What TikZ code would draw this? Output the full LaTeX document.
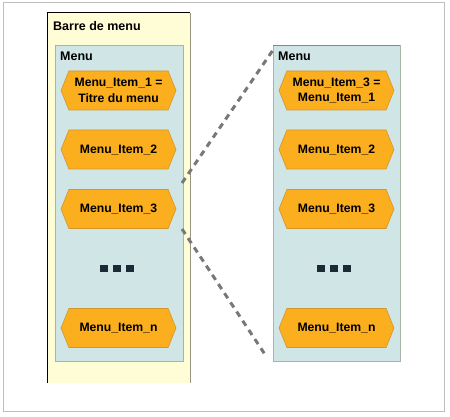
\documentclass[tikz,border=0pt]{standalone}
\usepackage{fontspec}
\setmainfont{Liberation Sans}
\usetikzlibrary{shapes.symbols}
\definecolor{itemorange}{HTML}{FBAE1E}
\definecolor{itemborder}{HTML}{D4952A}
\definecolor{barfill}{HTML}{FFFDD6}
\definecolor{barright}{HTML}{969682}
\definecolor{menufill}{HTML}{D0E6E6}
\definecolor{menuborder}{HTML}{A8B4A8}
\definecolor{menutop}{HTML}{788C82}
\definecolor{dotcol}{HTML}{1C2A36}
\definecolor{linkgray}{HTML}{787878}
\definecolor{framegray}{HTML}{BEBEBE}
\begin{document}
\begin{tikzpicture}[x=1pt,y=-1pt,
  item/.style={signal, signal to=east and west, signal pointer angle=136,
    fill=itemorange, draw=itemborder, line width=0.6pt,
    minimum width=115pt, minimum height=39pt, inner sep=0pt, align=center,
    font=\fontsize{12.2}{15.5}\selectfont\bfseries},
  boxtitle/.style={anchor=base west, inner sep=0pt, font=\fontsize{12.5}{14}\selectfont\bfseries},
  link/.style={draw=linkgray, line width=3pt, dash pattern=on 6pt off 5pt},
  dotsq/.style={fill=dotcol}]
\useasboundingbox (0,0) rectangle (450,417);
\draw[line width=1pt, draw=framegray] (3,3) rectangle (444,411);
% Barre de menu
\fill[barfill] (47,13) rectangle (190,383);
\draw[black, line width=1pt] (47,383) -- (47,13) -- (190,13);
\draw[barright, line width=0.8pt] (190,13) -- (190,383);
\node[boxtitle] (bar) at (53,30.5) {Barre de menu};
% Left menu
\draw[fill=menufill, draw=menuborder, line width=0.6pt] (55,45) rectangle (183,361);
\node[boxtitle] (lmenu) at (60,61) {Menu};
\node[item] (l1) at (118.5,90.5) {Menu\_Item\_1 =\\Titre du menu};
\node[item] (l2) at (118.5,149.5) {Menu\_Item\_2};
\node[item] (l3) at (118.5,209) {Menu\_Item\_3};
\node[item] (ln) at (118.5,328) {Menu\_Item\_n};
\foreach \x in {100,113,126} \fill[dotsq] (\x,264.5) rectangle ++(8,7);
% Right menu
\draw[fill=menufill, draw=menuborder, line width=0.6pt] (273,45) rectangle (400,361);
\draw[menutop, line width=0.8pt] (273,45) -- (400,45);
\node[boxtitle] (rmenu) at (278,61) {Menu};
\node[item] (r1) at (336.5,90.5) {Menu\_Item\_3 =\\Menu\_Item\_1};
\node[item] (r2) at (336.5,149.5) {Menu\_Item\_2};
\node[item] (r3) at (336.5,209) {Menu\_Item\_3};
\node[item] (rn) at (336.5,328) {Menu\_Item\_n};
\foreach \x in {317,330,343} \fill[dotsq] (\x,264.5) rectangle ++(8,7);
% links
\coordinate (a1) at (182,183);
\coordinate (b1) at (273,50);
\coordinate (a2) at (182,229);
\coordinate (b2) at (266,356);
\draw[link] (a1) -- (b1);
\draw[link] (a2) -- (b2);
\end{tikzpicture}
\end{document}
